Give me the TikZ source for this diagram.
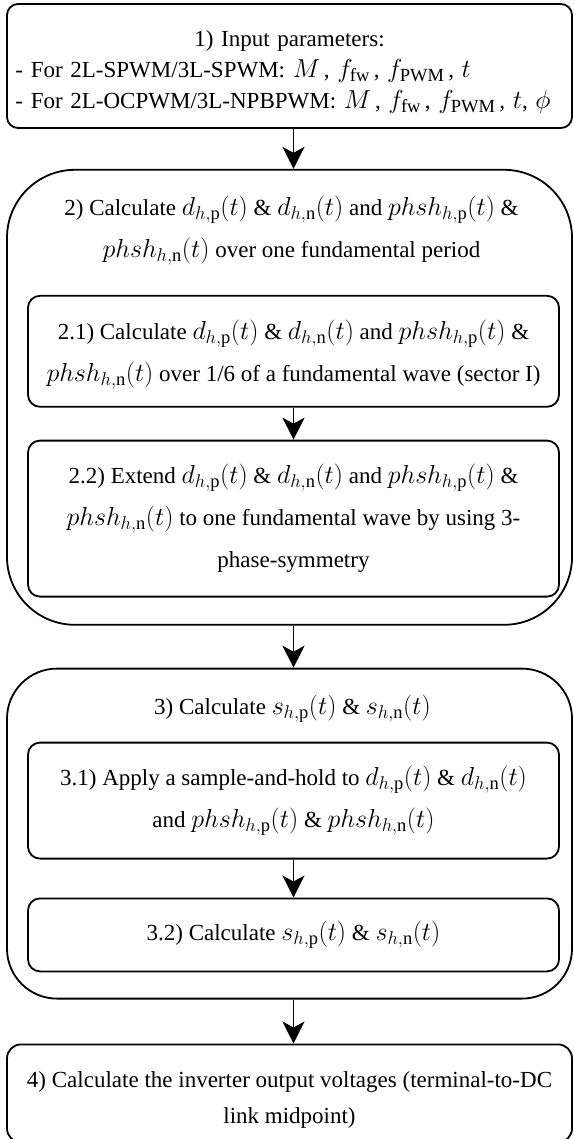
\RequirePackage{fix-cm}
\documentclass[tikz,border=0pt]{standalone}
\usepackage{fontspec}
\setmainfont{Liberation Serif}
\usepackage{tikz}
\usetikzlibrary{positioning,arrows.meta}
\DeclareMathSizes{23}{26}{18.5}{13.5}

\begin{document}
\begin{tikzpicture}[line width=1.8pt,
    frame/.style={draw, minimum width=565pt, inner sep=0pt},
    box/.style={draw, rounded corners=12pt, minimum width=531pt, inner sep=4pt,
      align=center, font=\fontsize{23}{42}\selectfont},
    ttl/.style={align=center, font=\fontsize{23}{42}\selectfont},
    arr/.style={-{Stealth[length=22pt,width=22pt,inset=6pt]}}]
    \useasboundingbox (0,0) rectangle (573pt,-1139pt);

    % 1) inputs
    \node[frame, rounded corners=11pt, minimum height=124pt, text width=548pt, align=left,
          font=\fontsize{23}{31}\selectfont] (inp) at (289.5pt,-66pt)
      {\makebox[\linewidth]{\rule{0pt}{28pt}1) Input parameters:}\\
       - For 2L-SPWM/3L-SPWM: $M$\,, $f_{\mathrm{fw}}$\,, $f_{\mathrm{PWM}}$\,, $t$\\
       - For 2L-OCPWM/3L-NPBPWM: $M$\,, $f_{\mathrm{fw}}$\,, $f_{\mathrm{PWM}}$\,, $t$, $\phi$};

    % 2) duty cycles and phase shifts
    \node[frame, rounded corners=68pt, minimum height=455pt, below=40pt of inp] (calc) {};
    \node[ttl] (t2) at ([xshift=2pt,yshift=-62pt]calc.north)
      {2) Calculate $d_{h,\mathrm{p}}(t)$ \& $d_{h,\mathrm{n}}(t)$ and $phsh_{h,\mathrm{p}}(t)$ \&\\
       $phsh_{h,\mathrm{n}}(t)$ over one fundamental period};
    \node[box, minimum height=111pt, below=126pt of calc.north, xshift=4pt] (sect)
      {\rule{0pt}{26pt}2.1) Calculate $d_{h,\mathrm{p}}(t)$ \& $d_{h,\mathrm{n}}(t)$ and $phsh_{h,\mathrm{p}}(t)$ \&\\
       $phsh_{h,\mathrm{n}}(t)$ over 1/6 of a fundamental wave (sector I)};
    \node[box, minimum height=156pt, below=32pt of sect] (ext)
      {2.2) Extend $d_{h,\mathrm{p}}(t)$ \& $d_{h,\mathrm{n}}(t)$ and $phsh_{h,\mathrm{p}}(t)$ \&\\
       $phsh_{h,\mathrm{n}}(t)$ to one fundamental wave by using 3-\\
       phase-symmetry};

    % 3) switching functions
    \node[frame, rounded corners=50pt, minimum height=330pt, below=42pt of calc] (calcs) {};
    \node[ttl] (t3) at ([xshift=3pt,yshift=-41pt]calcs.north)
      {3) Calculate $s_{h,\mathrm{p}}(t)$ \& $s_{h,\mathrm{n}}(t)$};
    \node[box, minimum height=116pt, below=74pt of calcs.north, xshift=4pt] (hold)
      {3.1) Apply a sample-and-hold to $d_{h,\mathrm{p}}(t)$ \& $d_{h,\mathrm{n}}(t)$\\
       and $phsh_{h,\mathrm{p}}(t)$ \& $phsh_{h,\mathrm{n}}(t)$};
    \node[box, minimum height=73pt, below=38pt of hold] (sw)
      {3.2) Calculate $s_{h,\mathrm{p}}(t)$ \& $s_{h,\mathrm{n}}(t)$};

    % 4) output
    \node[frame, rounded corners=14pt, minimum height=98pt, below=44pt of calcs, align=center,
          font=\fontsize{23}{36}\selectfont] (out)
      {\rule{0pt}{30pt}4) Calculate the inverter output voltages (terminal-to-DC\\ link midpoint)};

    \draw[arr] (inp.south -| sect.north) -- (calc.north -| sect.north);
    \draw[arr] (sect) -- (ext);
    \draw[arr] (calc.south -| sect.north) -- (calcs.north -| sect.north);
    \draw[arr] (hold) -- (sw);
    \draw[arr] (calcs.south -| sect.north) -- (out.north -| sect.north);
  \end{tikzpicture}
\end{document}
